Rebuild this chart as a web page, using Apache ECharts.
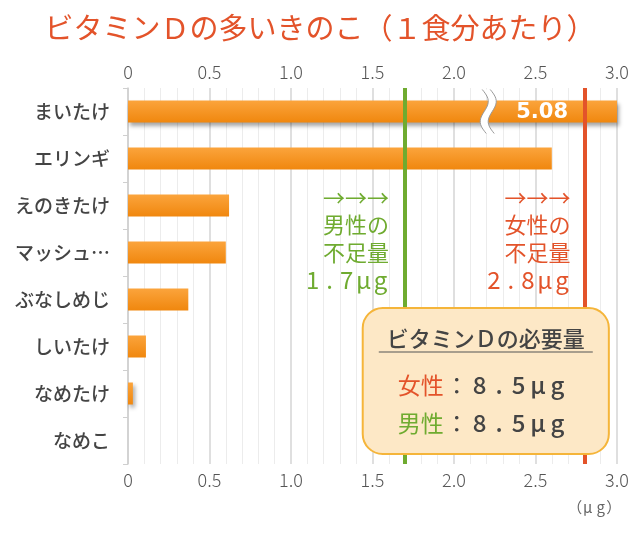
<!DOCTYPE html>
<html>
<head>
<meta charset="utf-8">
<script src="https://cdn.jsdelivr.net/npm/echarts@6/dist/echarts.min.js"></script>
<style>
  html, body { margin: 0; padding: 0; background: #fff; }
  #chart { width: 640px; height: 540px; }
</style>
</head>
<body>
<div id="chart"></div>
<script>
const categories = ['まいたけ', 'エリンギ', 'えのきたけ', 'マッシュ…', 'ぶなしめじ', 'しいたけ', 'なめたけ', 'なめこ']
const values = [5.08, 2.6, 0.62, 0.6, 0.37, 0.11, 0.03, 0.0]
const xTicks = [0, 0.5, 1.0, 1.5, 2.0, 2.5, 3.0]
const maleShortage = 1.7
const femaleShortage = 2.8
const femaleNeed = 8.5
const maleNeed = 8.5
const breakAt = 2.21

const FONT = '"Noto Sans CJK JP", "Noto Sans", sans-serif'
const GREEN = '#6fab30'
const RED = '#e3532a'
const xMax = xTicks[xTicks.length - 1]

const chart = echarts.init(document.getElementById('chart'))

const axisCommon = {
  type: 'value',
  min: xTicks[0],
  max: xMax,
  interval: 0.5,
  axisLine: { show: false },
  axisTick: { show: false },
  axisLabel: {
    margin: 7,
    fontFamily: FONT,
    fontSize: 18,
    fontWeight: 300,
    color: '#555',
    formatter: (v) => (v === 0 ? '0' : v.toFixed(1))
  },
  splitLine: { show: true, lineStyle: { color: '#d4d4d4', width: 1.5 } },
  minorTick: { show: false, splitNumber: 5 },
  minorSplitLine: { show: true, lineStyle: { color: '#ececec', width: 1 } }
}

const option = {
  animation: false,
  title: {
    text: 'ビタミンＤの多いきのこ（１食分あたり）',
    left: 'center',
    top: 8,
    textStyle: { fontFamily: FONT, fontSize: 29, fontWeight: 400, color: RED }
  },
  grid: { left: 128, right: 23, top: 88, bottom: 76 },
  xAxis: [
    Object.assign({}, axisCommon, { position: 'top' }),
    Object.assign({}, axisCommon, { position: 'bottom', splitLine: { show: false }, minorSplitLine: { show: false } })
  ],
  yAxis: {
    type: 'category',
    inverse: true,
    data: categories,
    axisLine: { show: true, lineStyle: { color: '#cfcfcf', width: 1.5 } },
    axisTick: { show: true, length: 5, lineStyle: { color: '#cfcfcf' } },
    axisLabel: {
      margin: 18,
      fontFamily: FONT,
      fontSize: 19,
      fontWeight: 500,
      color: '#444'
    }
  },
  series: [
    {
      type: 'bar',
      xAxisIndex: 0,
      barWidth: 22,
      data: values.map((v, i) => ({
        value: Math.min(v, xMax),
        label: {
          show: i === 0,
          position: 'insideRight',
          offset: [-44, 1],
          formatter: () => v.toFixed(2),
          color: '#fff',
          fontFamily: '"DejaVu Sans", sans-serif',
          fontSize: 21,
          fontWeight: 'bold'
        }
      })),
      itemStyle: {
        color: new echarts.graphic.LinearGradient(0, 0, 0, 1, [
          { offset: 0, color: '#fba43c' },
          { offset: 1, color: '#f0870e' }
        ]),
        shadowColor: 'rgba(0,0,0,0.35)',
        shadowBlur: 4,
        shadowOffsetX: 2,
        shadowOffsetY: 3
      },
      markLine: {
        silent: true,
        symbol: 'none',
        label: { show: false },
        data: [
          { xAxis: maleShortage, lineStyle: { color: GREEN, width: 4, type: 'solid' } },
          { xAxis: femaleShortage, lineStyle: { color: RED, width: 4, type: 'solid' } }
        ]
      }
    }
  ]
}

chart.setOption(option)

// annotations positioned from the axis scale
const px = (x, cat) => chart.convertToPixel({ xAxisIndex: 0, yAxisIndex: 0 }, [x, cat])
const maleP = px(maleShortage, categories[2])
const femaleP = px(femaleShortage, categories[2])
const breakP = px(breakAt, categories[0])

// spaced "x.xμg" made of fixed-width cells
function cells(str, style) {
  return str.split('').map((c) => '{' + style + '|' + c + '}').join('')
}

function noteBlock(p, color, head, amount, gap) {
  const font = '22px ' + FONT
  return {
    type: 'text',
    x: p[0] - gap,
    y: p[1] - 22,
    style: {
      text: '{t|→→→}\n{t|' + head[0] + '}\n{t|' + head[1] + '}\n' + cells(amount + 'μg', 'c'),
      align: 'right',
      verticalAlign: 'top',
      rich: {
        t: { fill: color, font: font, lineHeight: 27.5, align: 'right' },
        c: { fill: color, font: '24px ' + FONT, lineHeight: 27.5, width: 17, align: 'center' }
      }
    }
  }
}

function sCurve(cx, top, h, shift) {
  const pts = []
  for (let k = 0; k <= 20; k++) {
    const t = k / 20
    pts.push([cx + shift + 5 * Math.sin(Math.PI * 2 * t) - 2 + 4 * t, top + t * h])
  }
  return pts
}
const bTop = breakP[1] - 22
const leftEdge = sCurve(breakP[0], bTop, 44, -4)
const rightEdge = sCurve(breakP[0], bTop, 44, 4)

const boxL = px(1.44, categories[4])[0]
const boxR = px(2.95, categories[4])[0]
const boxT = 308
const boxB = 454
const boxCx = (boxL + boxR) / 2

function needLine(label, color, amount, y) {
  return {
    type: 'text', x: boxL + 35, y: y, z: 21,
    style: {
      text: '{s|' + label + '}{k|：}' + cells(amount.toFixed(1) + 'μg', 'n'),
      verticalAlign: 'middle',
      rich: {
        s: { fill: color, font: '23px ' + FONT },
        k: { fill: '#444', font: '23px ' + FONT, width: 26, align: 'center' },
        n: { fill: '#444', font: '500 24px ' + FONT, width: 19.5, align: 'center' }
      }
    }
  }
}

chart.setOption({
  graphic: [
    { type: 'polygon', shape: { points: leftEdge.concat(rightEdge.slice().reverse()) }, style: { fill: '#fff' }, z: 10 },
    { type: 'polyline', shape: { points: leftEdge }, style: { stroke: '#999', lineWidth: 1, fill: null }, z: 11 },
    { type: 'polyline', shape: { points: rightEdge }, style: { stroke: '#999', lineWidth: 1, fill: null }, z: 11 },
    noteBlock(maleP, GREEN, ['男性の', '不足量'], maleShortage.toFixed(1), 16),
    noteBlock(femaleP, RED, ['女性の', '不足量'], femaleShortage.toFixed(1), 14),
    {
      type: 'rect',
      shape: { x: boxL, y: boxT, width: boxR - boxL, height: boxB - boxT, r: 20 },
      style: { fill: '#fde8c6', stroke: '#f5b53a', lineWidth: 2 },
      z: 20
    },
    {
      type: 'text', x: boxCx, y: 339, z: 21,
      style: { text: 'ビタミンＤの必要量', fill: '#444', font: '500 22px ' + FONT, align: 'center', verticalAlign: 'middle' }
    },
    {
      type: 'line', z: 21,
      shape: { x1: boxCx - 107, y1: 352, x2: boxCx + 107, y2: 352 },
      style: { stroke: '#555', lineWidth: 1.2 }
    },
    needLine('女性', RED, femaleNeed, 385),
    needLine('男性', GREEN, maleNeed, 423),
    {
      type: 'text', x: px(2.75, categories[7])[0] + 18, y: 507,
      style: {
        text: cells('（μg）', 'u'),
        align: 'center',
        verticalAlign: 'middle',
        rich: { u: { fill: '#666', font: '15px ' + FONT, width: 13, align: 'center' } }
      }
    }
  ]
})
</script>
</body>
</html>
